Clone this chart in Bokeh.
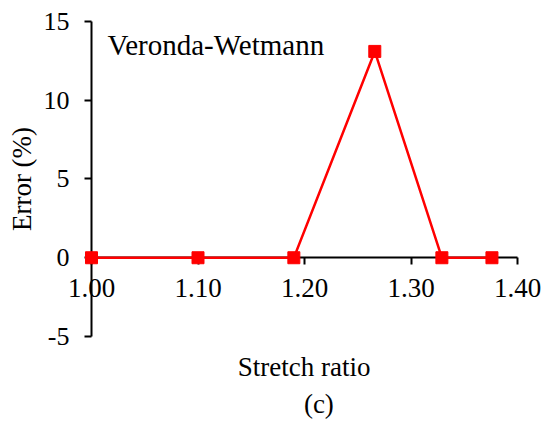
from bokeh.plotting import figure
from bokeh.models import Range1d, FixedTicker, Label, CustomJSTickFormatter
from bokeh.embed import file_html
from bokeh.resources import INLINE

stretch = [1.00, 1.10, 1.19, 1.266, 1.329, 1.376]
error = [0.0, 0.0, 0.0, 13.1, 0.0, 0.0]
x_ticks = [1.00, 1.10, 1.20, 1.30, 1.40]
y_ticks = [-5, 0, 5, 10, 15]

FONT = "Liberation Serif"

# frame covers the whole canvas; 1.00->91px, 1.40->517px, 15->21px, -5->336px
p = figure(width=543, height=421, output_backend="svg", toolbar_location=None,
           x_range=Range1d(0.91455, 1.42441), y_range=Range1d(-10.397, 16.333),
           min_border=0)
p.outline_line_color = None
p.grid.visible = False
p.background_fill_color = "white"
p.border_fill_color = "white"

p.line(stretch, error, line_color="#ff0000", line_width=2.5)
p.scatter(stretch, error, marker="square", size=12, fill_color="#ff0000", line_color="#ff0000")

xa = p.xaxis[0]
xa.level = "underlay"
xa.fixed_location = 0
xa.bounds = (1.00, 1.40)
xa.ticker = FixedTicker(ticks=x_ticks)
xa.formatter = CustomJSTickFormatter(code="return tick.toFixed(2);")
xa.minor_tick_line_color = None
xa.major_tick_in = 0
xa.major_tick_out = 7
xa.axis_line_width = 2
xa.major_tick_line_width = 2
xa.major_label_text_font = FONT
xa.major_label_text_font_size = "27px"
xa.major_label_text_color = "black"
xa.major_label_standoff = 14

ya = p.yaxis[0]
ya.level = "underlay"
ya.fixed_location = 1.00
ya.bounds = (-5, 15)
ya.ticker = FixedTicker(ticks=y_ticks)
ya.formatter = CustomJSTickFormatter(code="return tick.toString();")
ya.minor_tick_line_color = None
ya.major_tick_in = 0
ya.major_tick_out = 7
ya.axis_line_width = 2
ya.major_tick_line_width = 2
ya.major_label_text_font = FONT
ya.major_label_text_font_size = "26px"
ya.major_label_text_color = "black"
ya.major_label_standoff = 15
ya.axis_label = "Error (%)"
ya.axis_label_text_font = FONT
ya.axis_label_text_font_size = "27px"
ya.axis_label_text_font_style = "normal"
ya.axis_label_text_color = "black"
ya.axis_label_standoff = 4

p.add_layout(Label(x=1.015, y=13.5, text="Veronda-Wetmann", text_font=FONT,
                   text_font_size="29px", text_color="black", text_baseline="alphabetic"))
p.add_layout(Label(x=1.1997, y=-6.95, text="Stretch ratio", text_font=FONT,
                   text_font_size="27px", text_color="black", text_align="center",
                   text_baseline="alphabetic"))
p.add_layout(Label(x=1.2135, y=-9.28, text="(c)", text_font=FONT,
                   text_font_size="27px", text_color="black", text_align="center",
                   text_baseline="alphabetic"))

open("out.html", "w").write(file_html(p, INLINE))
